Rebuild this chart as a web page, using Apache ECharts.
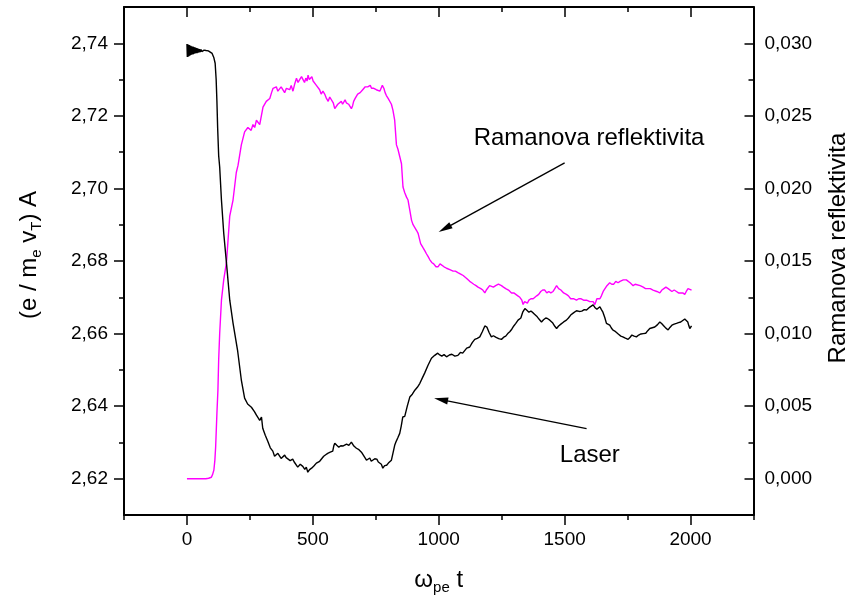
<!DOCTYPE html>
<html>
<head>
<meta charset="utf-8">
<script src="https://cdn.jsdelivr.net/npm/echarts@6/dist/echarts.min.js"></script>
<style>
html,body{margin:0;padding:0;background:#fff;}
#chart{width:849px;height:604px;}
</style>
</head>
<body>
<div id="chart"></div>
<script>
// ---- data (t = omega_pe t) ----
const laserData = [
[0,2.7398],[1.5,2.7362],[3,2.7397],[4.5,2.7363],[6,2.7396],[7.5,2.7364],[9,2.7395],[10.5,2.7366],
[12,2.7394],[13.5,2.7367],[15,2.7393],[16.5,2.7368],[18,2.7392],[19.5,2.7369],[21,2.7391],[22.5,2.7369],
[24,2.7391],[25.5,2.7370],[27,2.7390],[28.5,2.7371],[30,2.7389],[32,2.7372],[34,2.7388],[36,2.7373],
[38,2.7387],[40,2.7373],[42,2.7386],[44,2.7374],[46,2.7385],[48,2.7375],[50,2.7384],[53,2.7376],
[56,2.7383],[59,2.7377],[62,2.7382],[65,2.7377],[68,2.7381],[72,2.7378],[76,2.7380],[80,2.7378],
[85,2.7379],[90,2.7377],
[100,2.7372],[107,2.7360],[112,2.7345],[116,2.7300],[119,2.7240],[122,2.7165],[126,2.7090],[130,2.7059],
[137,2.6968],[146,2.6877],[157,2.6794],[170,2.6692],[183,2.6629],[201,2.6554],[216,2.6472],[229,2.6422],
[241,2.6406],[256,2.6397],[268,2.6385],[276,2.6375],[289,2.6361],[296,2.6370],[301,2.6339],[311,2.6320],
[321,2.6303],[331,2.6285],[341,2.6276],[348,2.6262],[355,2.6259],[361,2.6270],[368,2.6267],[374,2.6256],
[380,2.6254],[388,2.6265],[394,2.6258],[400,2.6262],[410,2.6250],[420,2.6254],[426,2.6246],[432,2.6251],
[440,2.6232],[450,2.6240],[460,2.6234],[468,2.6226],[474,2.6232],[480,2.6218],[487,2.6225],[495,2.6229],
[504,2.6235],[514,2.6243],[520,2.6240],[527,2.6248],[535,2.6255],[543,2.6262],[551,2.6266],[559,2.6270],
[569,2.6273],[579,2.6276],[583,2.6290],[587,2.6298],[595,2.6292],[603,2.6287],[611,2.6291],[619,2.6290],
[626,2.6286],[634,2.6295],[643,2.6292],[653,2.6301],[663,2.6290],[673,2.6284],[683,2.6280],[693,2.6273],
[703,2.6262],[713,2.6251],[720,2.6256],[726,2.6257],[732,2.6248],[738,2.6251],[746,2.6255],[754,2.6254],
[760,2.6246],[766,2.6251],[772,2.6240],[778,2.6229],[785,2.6236],[793,2.6237],[800,2.6243],[806,2.6240],
[812,2.6251],[818,2.6270],[825,2.6292],[831,2.6303],[837,2.6312],[845,2.6325],[851,2.6345],[857,2.6370],
[865,2.6372],[875,2.6400],[885,2.6425],[895,2.6433],[905,2.6444],[915,2.6452],[925,2.6463],[935,2.6478],
[944,2.6491],[957,2.6512],[971,2.6532],[984,2.6540],[996,2.6546],[1004,2.6541],[1012,2.6538],[1021,2.6542],
[1031,2.6536],[1042,2.6541],[1052,2.6543],[1064,2.6538],[1076,2.6540],[1086,2.6548],[1095,2.6546],[1103,2.6553],
[1111,2.6560],[1117,2.6557],[1123,2.6563],[1133,2.6575],[1143,2.6584],[1153,2.6587],[1163,2.6591],[1173,2.6605],
[1183,2.6621],[1191,2.6618],[1200,2.6603],[1209,2.6591],[1217,2.6594],[1226,2.6590],[1238,2.6586],[1249,2.6584],
[1258,2.6590],[1266,2.6593],[1274,2.6600],[1282,2.6605],[1290,2.6612],[1298,2.6621],[1306,2.6628],[1315,2.6637],
[1326,2.6643],[1334,2.6660],[1342,2.6669],[1350,2.6664],[1358,2.6659],[1366,2.6662],[1375,2.6657],[1382,2.6652],
[1389,2.6648],[1398,2.6640],[1408,2.6632],[1416,2.6638],[1425,2.6643],[1433,2.6641],[1441,2.6637],[1447,2.6634],
[1453,2.6629],[1461,2.6620],[1468,2.6614],[1476,2.6621],[1485,2.6626],[1496,2.6632],[1507,2.6637],[1515,2.6643],
[1524,2.6651],[1535,2.6657],[1547,2.6663],[1558,2.6661],[1568,2.6662],[1578,2.6666],[1587,2.6665],[1593,2.6670],
[1600,2.6673],[1607,2.6676],[1613,2.6679],[1620,2.6672],[1628,2.6667],[1634,2.6671],[1640,2.6674],[1646,2.6666],
[1652,2.6659],[1659,2.6645],[1666,2.6628],[1672,2.6626],[1679,2.6623],[1685,2.6616],[1691,2.6610],[1699,2.6607],
[1706,2.6605],[1714,2.6598],[1723,2.6593],[1731,2.6591],[1739,2.6588],[1745,2.6586],[1752,2.6584],[1760,2.6590],
[1767,2.6596],[1776,2.6593],[1785,2.6591],[1794,2.6596],[1803,2.6599],[1812,2.6600],[1822,2.6601],[1830,2.6608],
[1838,2.6614],[1848,2.6616],[1858,2.6618],[1868,2.6624],[1878,2.6632],[1886,2.6627],[1894,2.6621],[1902,2.6615],
[1911,2.6610],[1918,2.6617],[1926,2.6623],[1935,2.6626],[1944,2.6628],[1952,2.6630],[1961,2.6632],[1969,2.6636],
[1977,2.6640],[1983,2.6637],[1989,2.6632],[1993,2.6622],[1997,2.6614],[2001,2.6618],[2004,2.6621]
];

const ramanData = [
[0,0.0000],[40,0.0000],[75,0.0000],[86,0.00003],[97,0.0001],[102,0.0003],[107,0.0006],[111,0.0013],
[114,0.0022],[119,0.0045],[123,0.0061],[126,0.0082],[130,0.0100],[137,0.0123],[146,0.0137],[157,0.0149],
[163,0.0164],[170,0.0181],[183,0.0192],[196,0.0211],[203,0.0216],[216,0.0230],[229,0.0239],[242,0.0242],
[249,0.0242],[255,0.0240],[262,0.0244],[269,0.0242],[276,0.0247],[283,0.0248],[289,0.0244],[296,0.0245],
[302,0.0256],[309,0.0257],[315,0.0260],[322,0.0259],[329,0.0262],[336,0.0266],[342,0.0269],[348,0.0268],
[355,0.0270],[361,0.0267],[368,0.0267],[374,0.0270],[380,0.0269],[388,0.0266],[395,0.0269],[402,0.0270],
[408,0.0268],[414,0.0271],[421,0.0267],[428,0.0272],[435,0.0276],[441,0.0273],[448,0.0274],[455,0.0277],
[461,0.0275],[467,0.0273],[472,0.0276],[477,0.0274],[481,0.0278],[486,0.0275],[491,0.0276],[496,0.0277],
[501,0.0274],[507,0.0273],[514,0.0271],[520,0.0270],[527,0.0268],[533,0.0265],[540,0.0267],[547,0.0265],
[554,0.0262],[561,0.0260],[567,0.0263],[574,0.0264],[581,0.0259],[587,0.0255],[593,0.0256],[599,0.0258],
[606,0.0257],[613,0.0260],[618,0.0258],[623,0.0258],[628,0.0261],[633,0.0259],[638,0.0260],[642,0.0258],
[648,0.0257],[653,0.0255],[658,0.0257],[662,0.0260],[668,0.0262],[673,0.0263],[678,0.0265],[682,0.0264],
[688,0.0266],[693,0.0267],[698,0.0268],[702,0.0269],[708,0.0270],[713,0.0271],[718,0.0270],[722,0.0269],
[728,0.0271],[733,0.0269],[738,0.0270],[742,0.0269],[747,0.0268],[752,0.0268],[759,0.0267],[766,0.0267],
[771,0.0269],[776,0.0271],[782,0.0269],[787,0.0266],[792,0.0264],[799,0.0262],[805,0.0261],[812,0.0258],
[818,0.0254],[825,0.0247],[832,0.0230],[838,0.0227],[845,0.0222],[852,0.0217],[858,0.0201],[865,0.0197],
[872,0.0194],[878,0.0192],[885,0.0185],[892,0.0178],[898,0.0175],[905,0.0173],[912,0.0171],[918,0.0169],
[928,0.0162],[938,0.0159],[945,0.0157],[951,0.0155],[958,0.0153],[964,0.0151],[972,0.0149],[980,0.0148],
[989,0.0146],[997,0.0146],[1005,0.0148],[1012,0.0147],[1021,0.0146],[1031,0.0145],[1038,0.0146],[1044,0.0144],
[1050,0.0144],[1057,0.0143],[1066,0.0143],[1076,0.0142],[1087,0.0141],[1097,0.0140],[1104,0.0139],[1111,0.0138],
[1117,0.0137],[1123,0.0136],[1131,0.0135],[1139,0.0134],[1148,0.0133],[1156,0.0132],[1162,0.0132],[1167,0.0131],
[1175,0.0130],[1183,0.0128],[1189,0.0130],[1195,0.0131],[1202,0.0133],[1209,0.0133],[1217,0.0132],[1226,0.0133],
[1237,0.0134],[1249,0.0133],[1257,0.0132],[1266,0.0131],[1277,0.0130],[1289,0.0128],[1298,0.0128],[1306,0.0127],
[1314,0.0126],[1322,0.0125],[1330,0.0123],[1335,0.0120],[1341,0.0122],[1346,0.0122],[1352,0.0121],[1358,0.0123],
[1366,0.0124],[1375,0.0124],[1382,0.0125],[1389,0.0126],[1397,0.0127],[1405,0.0129],[1413,0.0130],[1421,0.0130],
[1429,0.0128],[1437,0.0129],[1445,0.0128],[1454,0.0129],[1461,0.0131],[1468,0.0133],[1476,0.0131],[1485,0.0130],
[1496,0.0128],[1507,0.0127],[1515,0.0126],[1524,0.0124],[1535,0.0124],[1547,0.0123],[1556,0.0124],[1564,0.0124],
[1575,0.0123],[1587,0.0123],[1594,0.0122],[1600,0.0122],[1607,0.0123],[1613,0.0122],[1620,0.0120],[1628,0.0124],
[1634,0.0123],[1640,0.0124],[1646,0.0126],[1653,0.0129],[1660,0.0130],[1668,0.0133],[1673,0.0134],[1679,0.0135],
[1687,0.0134],[1695,0.0134],[1703,0.0136],[1712,0.0135],[1720,0.0136],[1727,0.0136],[1733,0.0137],[1739,0.0138],
[1745,0.0137],[1751,0.0136],[1760,0.0135],[1772,0.0133],[1780,0.0134],[1787,0.0134],[1800,0.0133],[1812,0.0132],
[1821,0.0131],[1830,0.0131],[1840,0.0131],[1851,0.0130],[1858,0.0130],[1866,0.0129],[1872,0.0128],[1878,0.0128],
[1886,0.0130],[1894,0.0131],[1902,0.0132],[1911,0.0131],[1918,0.0130],[1926,0.0129],[1935,0.0130],[1944,0.0129],
[1952,0.0128],[1961,0.0128],[1969,0.0128],[1977,0.0127],[1983,0.0129],[1990,0.0131],[1997,0.0131],[2004,0.0130]
];

// tick values
const xMajorTicks = [0, 500, 1000, 1500, 2000];
const xMinorTicks = [-250, 250, 750, 1250, 1750, 2250];
const leftMajorTicks = [2.62, 2.64, 2.66, 2.68, 2.70, 2.72, 2.74];
const leftMinorTicks = [2.63, 2.65, 2.67, 2.69, 2.71, 2.73];
const rightMajorTicks = [0, 0.005, 0.010, 0.015, 0.020, 0.025, 0.030];
const rightMinorTicks = [0.0025, 0.0075, 0.0125, 0.0175, 0.0225, 0.0275];

// annotations: [tail, head] in data coordinates, and label anchors
const ramanArrow = [[1500, 0.02176], [1024, 0.01723]];
const laserArrow = [[1587, 2.6338], [1009, 2.6418]];
const ramanLabelAt = [1597, 0.02345];
const laserLabelAt = [1600, 2.6265];

const FONT = "'Liberation Sans', Arial, sans-serif";
const tickStyle = {color: '#000', width: 1.5};
const hideLine = {show: false, onZero: false};
const mainLine = {show: true, onZero: false, lineStyle: {color: '#000', width: 2}};
const labelStyle = {color: '#000', fontSize: 19, fontFamily: FONT};
const nameRich = {
  m: {fontSize: 24, fontFamily: FONT, color: '#000', lineHeight: 30},
  s: {fontSize: 15, fontFamily: FONT, color: '#000', lineHeight: 9, verticalAlign: 'bottom'}
};
// narrow filled arrowhead (tip up); extra moveTo points widen the box so it stays slim
const ARROW_HEAD = 'path://M0,0M14,0M7,0L10.5,14L3.5,14Z';

const chart = echarts.init(document.getElementById('chart'), null, {renderer: 'canvas'});

function xAx(extra) {
  return Object.assign({
    type: 'value', min: -250, max: 2250, interval: 250, gridIndex: 0,
    splitLine: {show: false}, axisLine: hideLine, axisLabel: {show: false}
  }, extra);
}
function yLeft(extra) {
  return Object.assign({
    type: 'value', position: 'left', min: 2.61, max: 2.75, interval: 0.01, gridIndex: 0,
    splitLine: {show: false}, axisLine: hideLine, axisLabel: {show: false}
  }, extra);
}
function yRight(extra) {
  return Object.assign({
    type: 'value', position: 'right', min: -0.0025, max: 0.0325, interval: 0.0025, gridIndex: 0,
    splitLine: {show: false}, axisLine: hideLine, axisLabel: {show: false}
  }, extra);
}
function arrowLine(pts) {
  return {
    silent: true, symbol: ['none', ARROW_HEAD], symbolSize: 14, animation: false,
    lineStyle: {color: '#000', width: 1.3, type: 'solid'}, itemStyle: {color: '#000'},
    label: {show: false}, emphasis: {disabled: true},
    data: [[{coord: pts[0], symbol: 'none'}, {coord: pts[1], symbol: ARROW_HEAD, symbolSize: 14}]]
  };
}
function textMark(txt, at) {
  return {
    silent: true, symbol: 'rect', symbolSize: 1, itemStyle: {color: 'rgba(0,0,0,0)'},
    label: {show: true, position: 'inside', color: '#000', fontSize: 24, fontFamily: FONT, formatter: txt},
    data: [{coord: at}]
  };
}

chart.setOption({
  animation: false,
  backgroundColor: '#fff',
  grid: {left: 124, right: 95.5, top: 7, bottom: 89, containLabel: false, outerBoundsMode: 'none'},
  xAxis: [
    xAx({position: 'bottom', axisLine: mainLine,
      axisTick: {show: true, inside: false, length: 10, customValues: xMajorTicks, lineStyle: tickStyle},
      axisLabel: Object.assign({show: true, margin: 15, customValues: xMajorTicks,
        formatter: v => String(Math.round(v))}, labelStyle),
      name: '{m|\u03c9}{s|pe}{m| t}', nameLocation: 'middle', nameGap: 50,
      nameTextStyle: {rich: nameRich}}),
    xAx({position: 'bottom',
      axisTick: {show: true, inside: false, length: 5, customValues: xMinorTicks, lineStyle: tickStyle}}),
    xAx({position: 'top', axisLine: mainLine,
      axisTick: {show: true, inside: true, length: 10, customValues: xMajorTicks, lineStyle: tickStyle}}),
    xAx({position: 'top',
      axisTick: {show: true, inside: true, length: 5, customValues: xMinorTicks, lineStyle: tickStyle}})
  ],
  yAxis: [
    yLeft({axisLine: mainLine,
      axisTick: {show: true, inside: false, length: 10, customValues: leftMajorTicks, lineStyle: tickStyle},
      axisLabel: Object.assign({show: true, margin: 16, customValues: leftMajorTicks,
        formatter: v => v.toFixed(2).replace('.', ',')}, labelStyle),
      name: '{m|(e / m}{s|e}{m| v}{s|T}{m|) A}', nameLocation: 'middle', nameRotate: 90, nameGap: 80,
      nameTextStyle: {rich: nameRich, padding: [0, 0, 0, 12]}}),
    yRight({axisLine: mainLine,
      axisTick: {show: true, inside: true, length: 9, customValues: rightMajorTicks, lineStyle: tickStyle},
      axisLabel: Object.assign({show: true, margin: 11, customValues: rightMajorTicks,
        formatter: v => v.toFixed(3).replace('.', ',')}, labelStyle),
      name: 'Ramanova reflektivita', nameLocation: 'middle', nameRotate: 90, nameGap: 68,
      nameTextStyle: {fontSize: 24, fontFamily: FONT, color: '#000', lineHeight: 30, padding: [0, 0, 0, 26]}}),
    yLeft({axisTick: {show: true, inside: false, length: 5, customValues: leftMinorTicks, lineStyle: tickStyle}}),
    yRight({axisTick: {show: true, inside: true, length: 5, customValues: rightMinorTicks, lineStyle: tickStyle}})
  ],
  series: [
    {
      name: 'Ramanova reflektivita', type: 'line', xAxisIndex: 0, yAxisIndex: 1,
      data: ramanData, showSymbol: false, smooth: false,
      lineStyle: {color: '#ff00ff', width: 1.4}, itemStyle: {color: '#ff00ff'},
      markLine: arrowLine(ramanArrow),
      markPoint: textMark('Ramanova reflektivita', ramanLabelAt)
    },
    {
      name: 'Laser', type: 'line', xAxisIndex: 0, yAxisIndex: 0,
      data: laserData, showSymbol: false, smooth: false,
      lineStyle: {color: '#000', width: 1.4}, itemStyle: {color: '#000'},
      markLine: arrowLine(laserArrow),
      markPoint: textMark('Laser', laserLabelAt)
    }
  ]
});
</script>
</body>
</html>
